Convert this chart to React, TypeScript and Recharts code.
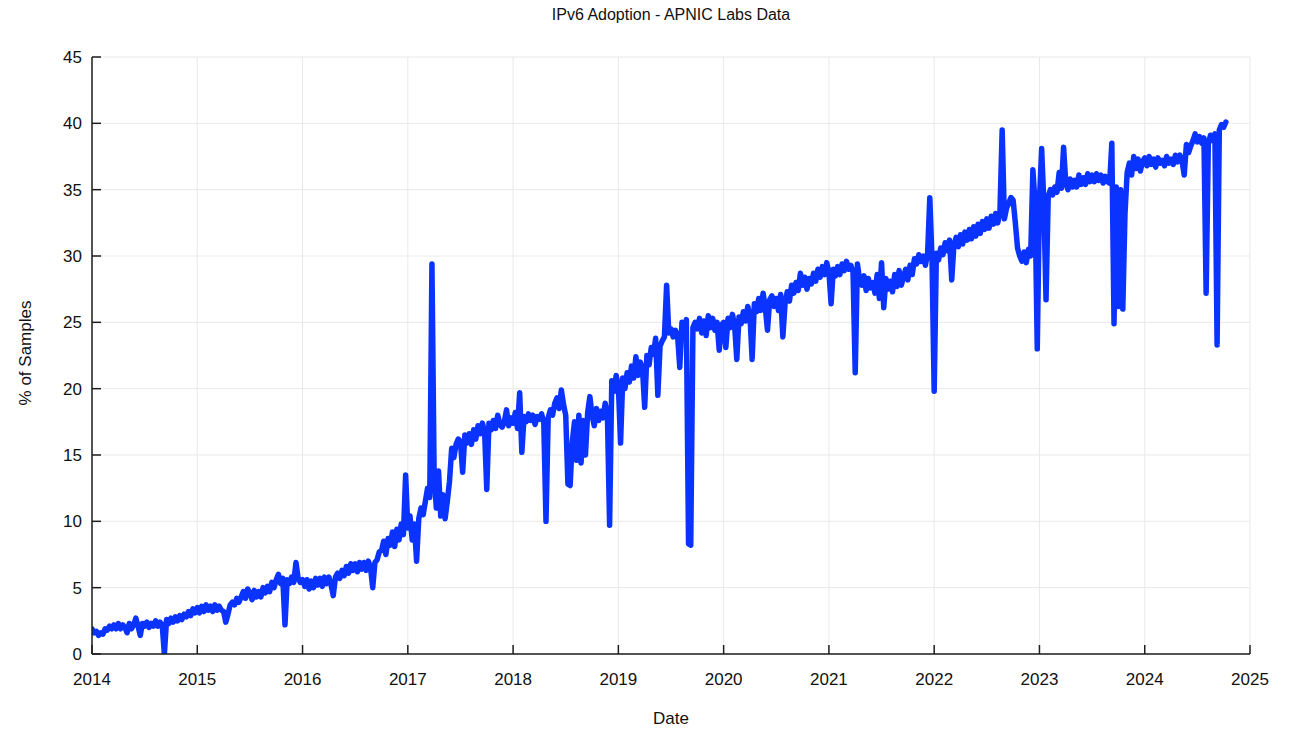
import React from 'react';
import { LineChart, Line, XAxis, YAxis, CartesianGrid } from 'recharts';

// ---- data (percent of samples, ~weekly readings, 48 per year) ----
const startYears = [2014, 2015, 2016, 2017, 2018, 2019, 2020, 2021, 2022, 2023, 2024];

const v2014 = [
  1.9, 1.6, 1.7, 1.4, 1.6, 1.5, 1.9, 1.8, 2.1, 1.9, 2.2, 1.9,
  2.3, 1.9, 2.2, 2.0, 1.6, 2.3, 1.9, 2.2, 2.7, 2.1, 1.4, 2.3,
  2.1, 2.4, 2.0, 2.3, 2.1, 2.5, 2.1, 2.4, 2.2, 0.0, 2.6, 2.3,
  2.7, 2.4, 2.8, 2.5, 2.9, 2.6, 3.0, 2.8, 3.2, 2.9, 3.4, 3.1,
];
const v2015 = [
  3.5, 3.1, 3.6, 3.2, 3.7, 3.3, 3.6, 3.2, 3.7, 3.3, 3.6, 3.3,
  3.2, 2.4, 3.0, 3.7, 3.9, 3.7, 4.2, 3.9, 4.3, 4.7, 4.2, 4.9,
  4.6, 4.1, 4.8, 4.3, 4.7, 4.3, 5.0, 4.6, 5.1, 4.7, 5.4, 5.0,
  5.6, 6.0, 5.3, 5.7, 2.2, 5.6, 5.3, 5.8, 5.4, 6.9, 5.7, 5.4,
];
const v2016 = [
  5.6, 5.1, 5.6, 4.9, 5.5, 5.0, 5.7, 5.2, 5.7, 5.1, 5.8, 5.3,
  5.8, 5.2, 4.4, 5.8, 6.1, 5.7, 6.3, 5.9, 6.6, 6.1, 6.8, 6.3,
  6.8, 6.2, 6.9, 6.4, 6.9, 6.3, 7.0, 6.5, 5.0, 6.9, 7.1, 7.7,
  7.8, 8.5, 7.5, 8.7, 8.2, 9.2, 8.1, 9.4, 8.6, 9.8, 9.0, 13.5,
];
const v2017 = [
  9.5, 10.4, 8.6, 9.8, 7.0, 10.2, 11.0, 10.5, 11.5, 12.5, 11.8, 29.4,
  13.5, 11.0, 13.8, 10.4, 12.0, 10.2, 11.5, 13.0, 15.5, 14.8, 15.8, 16.2,
  16.0, 13.7, 16.5, 15.9, 16.6, 15.8, 16.9, 16.2, 17.2, 16.6, 17.4, 16.8,
  12.4, 17.4, 16.9, 17.6, 17.0, 18.0, 17.3, 17.1, 17.5, 18.4, 17.2, 17.8,
];
const v2018 = [
  17.4, 18.2, 17.0, 19.7, 15.2, 17.9, 17.5, 18.1, 17.6, 18.0, 17.3, 17.9,
  17.7, 18.1, 17.4, 10.0, 17.8, 18.4, 18.0, 18.9, 19.3, 18.5, 19.9, 18.8,
  18.0, 12.8, 12.7, 16.0, 17.5, 14.6, 18.0, 14.4, 17.6, 15.0, 18.2, 19.4,
  18.0, 17.2, 18.5, 17.6, 18.3, 17.8, 18.9, 18.1, 9.7, 20.6, 19.8, 21.0,
];
const v2019 = [
  20.2, 15.9, 20.8, 20.0, 21.2, 20.5, 21.7, 20.8, 22.4, 21.0, 22.0, 21.5,
  18.6, 22.5, 21.8, 23.1, 22.6, 23.8, 19.5, 23.2, 23.6, 23.9, 27.8, 24.2,
  24.5, 23.9, 24.4, 24.0, 21.6, 25.0, 24.6, 25.2, 8.3, 8.2, 24.6, 25.0,
  24.5, 25.3, 24.2, 25.1, 24.0, 25.5, 24.6, 25.3, 24.4, 25.0, 22.9, 24.8,
];
const v2020 = [
  25.0, 23.1, 25.3, 24.6, 25.6, 24.8, 22.2, 25.4, 24.9, 25.8, 25.1, 26.2,
  25.5, 22.2, 26.4, 25.8, 26.8, 25.9, 27.2, 26.1, 24.4, 26.7, 27.0, 26.2,
  26.8, 25.9, 27.1, 23.9, 26.4, 27.3, 26.6, 27.8, 27.2, 28.0, 27.4, 28.7,
  27.8, 28.4, 27.5, 28.3, 27.9, 28.7, 28.1, 29.0, 28.4, 29.2, 28.6, 29.5,
];
const v2021 = [
  28.8, 26.4, 29.0, 28.5, 29.2, 28.6, 29.4, 28.9, 29.6, 29.0, 29.3, 28.8,
  21.2, 29.4, 28.2, 27.8, 28.5, 27.4, 28.3, 27.6, 28.0, 27.2, 28.6, 26.8,
  29.5, 26.1, 28.3, 27.5, 28.1, 27.3, 28.6, 27.7, 28.9, 27.8, 28.4, 29.0,
  28.2, 29.3, 28.6, 29.8, 29.4, 30.1, 29.6, 30.0, 29.3, 30.2, 34.4, 29.8,
];
const v2022 = [
  19.8, 30.2, 29.7, 30.6, 30.1, 31.0, 30.4, 31.2, 28.2, 30.8, 31.4, 30.7,
  31.6, 30.9, 31.8, 31.2, 32.0, 31.3, 32.2, 31.5, 32.4, 31.7, 32.6, 32.0,
  32.8, 32.1, 33.0, 32.4, 33.2, 32.5, 33.4, 39.5, 32.8, 33.6, 34.0, 34.4,
  34.2, 32.5, 30.6, 30.0, 29.6, 30.3, 29.5, 30.5, 30.0, 36.5, 34.0, 23.0,
];
const v2023 = [
  34.2, 38.1, 34.0, 26.7, 34.5, 35.0, 34.6, 35.2, 34.8, 36.3, 35.1, 38.2,
  35.5, 35.0, 35.8, 35.2, 35.7, 35.2, 36.1, 35.4, 35.9, 35.4, 36.2, 35.6,
  36.1, 35.6, 36.2, 35.7, 36.1, 35.5, 36.0, 35.6, 35.5, 38.5, 24.9, 35.2,
  26.2, 35.0, 26.0, 33.2, 36.3, 37.0, 36.1, 37.5, 36.6, 37.3, 36.4, 37.1,
];
const v2024 = [
  37.4, 36.8, 37.5, 36.9, 37.3, 36.7, 37.4, 37.0, 37.2, 36.8, 37.5, 37.0,
  37.3, 36.9, 37.6, 37.1, 37.6, 37.2, 36.1, 38.4, 37.8, 38.3, 38.7, 39.2,
  38.6, 39.0, 38.5, 38.9, 27.2, 38.5, 39.1, 38.7, 39.2, 23.3, 39.5, 39.9,
  39.7, 40.1,
];

const yearlyValues = [v2014, v2015, v2016, v2017, v2018, v2019, v2020, v2021, v2022, v2023, v2024];
const SAMPLES_PER_YEAR = 48;

const xTicks = [2014, 2015, 2016, 2017, 2018, 2019, 2020, 2021, 2022, 2023, 2024, 2025];
const yTicks = [0, 5, 10, 15, 20, 25, 30, 35, 40, 45];

const data = yearlyValues.flatMap((vals, k) =>
  vals.map((v, i) => ({ date: startYears[k] + i / SAMPLES_PER_YEAR, pct: v }))
);

// ---- styles ----
const FONT = '"Liberation Sans", Arial, Helvetica, sans-serif';
const AXIS = '#1e1e1e';
const GRID = '#e9e9e9';
const LINE = '#0b33ff';
const TICK_LEN = 9;
const TICK_FONT = 17;

const LeftTick = (props: any) => {
  const { x, y, payload } = props;
  const ax = x + 10;
  return (
    <g>
      <line x1={ax} y1={y} x2={ax + TICK_LEN} y2={y} stroke={AXIS} strokeWidth={1.5} />
      <text x={x} y={y} dy="0.36em" textAnchor="end" fontSize={TICK_FONT} fontFamily={FONT} fill="#111">
        {payload.value}
      </text>
    </g>
  );
};

const BottomTick = (props: any) => {
  const { x, y, payload } = props;
  return (
    <g>
      <line x1={x} y1={y} x2={x} y2={y - TICK_LEN} stroke={AXIS} strokeWidth={1.5} />
      <text x={x} y={y + 19} dy="0.71em" textAnchor="middle" fontSize={TICK_FONT} fontFamily={FONT} fill="#111">
        {payload.value}
      </text>
    </g>
  );
};

const TopTick = (props: any) => {
  const { x, y } = props;
  return <line x1={x} y1={y} x2={x} y2={y + TICK_LEN} stroke={AXIS} strokeWidth={1.5} />;
};

const RightTick = (props: any) => {
  const { x, y } = props;
  return <line x1={x} y1={y} x2={x - TICK_LEN} y2={y} stroke={AXIS} strokeWidth={1.5} />;
};

export default function App() {
  return (
    <div style={{ position: 'absolute', left: 0, top: 0, width: 1296, height: 730, background: '#fff', fontFamily: FONT }}>
      <LineChart width={1296} height={730} data={data} margin={{ top: 57, right: 46, bottom: 0, left: 0 }}>
        <CartesianGrid stroke={GRID} strokeWidth={1} />
        <XAxis
          dataKey="date"
          type="number"
          domain={[2014, 2025]}
          ticks={xTicks}
          interval={0}
          allowDataOverflow
          height={76}
          tickSize={0}
          tickMargin={0}
          tickLine={false}
          axisLine={{ stroke: AXIS, strokeWidth: 1.5 }}
          tick={BottomTick}
        />
        <XAxis
          xAxisId="top"
          orientation="top"
          dataKey="date"
          type="number"
          domain={[2014, 2025]}
          ticks={xTicks}
          interval={0}
          allowDataOverflow
          height={0}
          tickSize={0}
          tickMargin={0}
          tickLine={false}
          axisLine={{ stroke: AXIS, strokeWidth: 1.5 }}
          tick={TopTick}
        />
        <YAxis
          type="number"
          domain={[0, 45]}
          ticks={yTicks}
          interval={0}
          allowDataOverflow
          width={92}
          tickSize={0}
          tickMargin={10}
          tickLine={false}
          axisLine={{ stroke: AXIS, strokeWidth: 1.5 }}
          tick={LeftTick}
        />
        <YAxis
          yAxisId="right"
          orientation="right"
          type="number"
          domain={[0, 45]}
          ticks={yTicks}
          interval={0}
          allowDataOverflow
          width={0}
          tickSize={0}
          tickMargin={0}
          tickLine={false}
          axisLine={{ stroke: AXIS, strokeWidth: 1.5 }}
          tick={RightTick}
        />
        <Line
          type="linear"
          dataKey="pct"
          stroke={LINE}
          strokeWidth={5.5}
          strokeLinejoin="round"
          strokeLinecap="round"
          dot={false}
          activeDot={false}
          isAnimationActive={false}
        />
      </LineChart>
      <div
        style={{
          position: 'absolute', left: 671, top: 15, transform: 'translate(-50%, -50%)',
          fontSize: 16, color: '#111', whiteSpace: 'nowrap',
        }}
      >
        IPv6 Adoption - APNIC Labs Data
      </div>
      <div
        style={{
          position: 'absolute', left: 671, top: 719, transform: 'translate(-50%, -50%)',
          fontSize: 17, color: '#111', whiteSpace: 'nowrap',
        }}
      >
        Date
      </div>
      <div
        style={{
          position: 'absolute', left: 26, top: 353, transform: 'translate(-50%, -50%) rotate(-90deg)',
          fontSize: 17, color: '#111', whiteSpace: 'nowrap',
        }}
      >
        % of Samples
      </div>
    </div>
  );
}
